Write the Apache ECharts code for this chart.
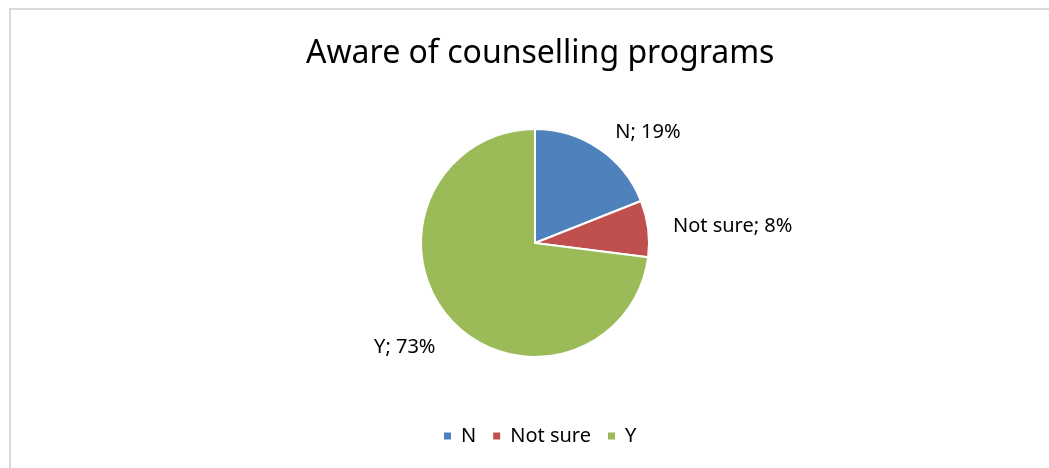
<!DOCTYPE html>
<html>
<head>
<meta charset="utf-8">
<script src="https://cdn.jsdelivr.net/npm/echarts@6/dist/echarts.min.js"></script>
<style>
html,body{margin:0;padding:0;background:#fff;}
#wrap{position:relative;width:1049px;height:468px;overflow:hidden;}
#chart{position:absolute;left:0;top:0;width:1049px;height:468px;}
#frame{position:absolute;left:9px;top:8px;width:1100px;height:500px;border:2px solid #d9d9d9;box-sizing:border-box;pointer-events:none;}
</style>
</head>
<body>
<div id="wrap"><div id="chart"></div><div id="frame"></div></div>
<script>
const title = 'Aware of counselling programs';
const categories = ['N', 'Not sure', 'Y'];
const values = [19, 8, 73];
const colors = ['#4F81BD', '#C0504D', '#9BBB59'];

const font = '"Noto Sans", sans-serif';
const chart = echarts.init(document.getElementById('chart'));
chart.setOption({
  animation: false,
  title: {
    text: title, left: 301, top: 33,
    textStyle: {fontFamily: font, fontSize: 32, fontWeight: 'normal', color: '#000'}
  },
  legend: {
    data: categories, bottom: 17, left: 437,
    icon: 'rect', itemWidth: 9, itemHeight: 9, itemGap: 15,
    textStyle: {fontFamily: font, fontSize: 20, color: '#000', padding: [0, 0, 0, 4]}
  },
  series: [{
    type: 'pie',
    center: [535, 243],
    radius: 114,
    startAngle: 90,
    clockwise: true,
    data: categories.map((c, i) => ({name: c, value: values[i], itemStyle: {color: colors[i]}})),
    itemStyle: {borderColor: '#fff', borderWidth: 2},
    label: {
      show: true, position: 'outside',
      formatter: p => p.name + '; ' + p.value + '%',
      fontFamily: font, fontSize: 20, color: '#000'
    },
    labelLine: {show: false, length: 20, length2: 0},
    labelLayout: p => p.dataIndex === 2 ? {dx: 6, dy: 16} : {},
    emphasis: {disabled: true}
  }]
});
</script>
</body>
</html>
